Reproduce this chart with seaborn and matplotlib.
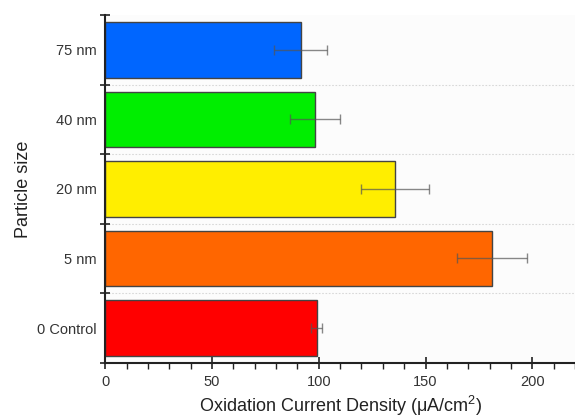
import matplotlib.pyplot as plt
import pandas as pd
import seaborn as sns
from matplotlib.ticker import MultipleLocator, FixedLocator

# values
sizes = ['75 nm', '40 nm', '20 nm', '5 nm', '0 Control']
density = [91.5, 98.2, 135.8, 181.0, 99.0]
errors = [12.3, 11.6, 16.0, 16.4, 2.5]
colors = ['#0066ff', '#00ee00', '#ffee00', '#ff6600', '#ff0000']

df = pd.DataFrame({'Particle size': sizes, 'Density': density, 'Err': errors})

sns.set_style('white')
plt.rcParams['font.family'] = ['Liberation Sans', 'DejaVu Sans']

fig = plt.figure(figsize=(5.75, 4.18), dpi=100)
ax = fig.add_axes([0.183, 0.132, 0.817, 0.832])
ax.set_facecolor('#fcfcfc')

sns.barplot(data=df, y='Particle size', x='Density', hue='Particle size',
            palette=colors, order=sizes, orient='h', width=0.8, saturation=1,
            edgecolor='#444444', linewidth=1.0, errorbar=None, legend=False, ax=ax)

ax.errorbar(df['Density'], range(len(sizes)), xerr=df['Err'], fmt='none',
            ecolor='#555555', alpha=0.7, elinewidth=1.0, capsize=3.5, capthick=1.0)

ax.set_xlim(0, 220)
ax.set_ylim(4.5, -0.5)

for y in [0.5, 1.5, 2.5, 3.5]:
    ax.axhline(y, color='#d8d8d8', lw=0.8, ls=(0, (1.5, 1.5)), zorder=0)

ax.xaxis.set_major_locator(MultipleLocator(50))
ax.xaxis.set_minor_locator(MultipleLocator(10))
ax.yaxis.set_minor_locator(FixedLocator([-0.5, 0.5, 1.5, 2.5, 3.5, 4.5]))
ax.tick_params(axis='x', which='major', bottom=True, direction='inout', length=8, width=1.2,
               color='#222222', labelsize=10.5, labelcolor='#333333', pad=5)
ax.tick_params(axis='x', which='minor', bottom=True, direction='out', length=4, width=1.0,
               color='#222222')
ax.tick_params(axis='y', which='major', left=False, length=0, labelsize=10.5,
               labelcolor='#333333', pad=6)
ax.tick_params(axis='y', which='minor', left=True, direction='inout', length=7, width=1.2,
               color='#222222')

for side in ['top', 'right']:
    ax.spines[side].set_visible(False)
for side in ['left', 'bottom']:
    ax.spines[side].set_color('#222222')
    ax.spines[side].set_linewidth(1.5)

ax.set_ylabel('Particle size', fontsize=13, color='#222222', labelpad=4)
ax.set_xlabel('Oxidation Current Density ($\\mathregular{\\mu}$A/cm$^\\mathregular{2}$)',
              fontsize=13, color='#222222', labelpad=3.5)

fig.savefig('out.png', dpi=100)
